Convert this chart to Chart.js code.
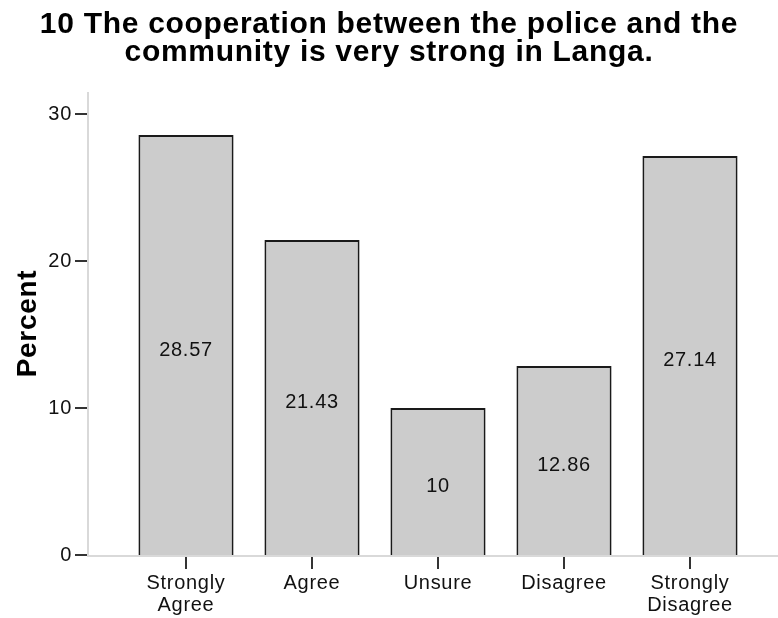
<!DOCTYPE html>
<html>
<head>
<meta charset="utf-8">
<script src="https://cdn.jsdelivr.net/npm/chart.js@4.4.0/dist/chart.umd.min.js"></script>
<style>
  html, body { margin: 0; padding: 0; background: #fff; }
</style>
</head>
<body>
<canvas id="percentChart" width="778" height="618"></canvas>
<script>
// answers to question 10
var titleLines = ["10 The cooperation between the police and the", "community is very strong in Langa."];
var categories = [["Strongly", "Agree"], "Agree", "Unsure", "Disagree", ["Strongly", "Disagree"]];
var percents = [28.57, 21.43, 10, 12.86, 27.14];
var yTicks = [0, 10, 20, 30];

var FONT = 'Arial, "Liberation Sans", sans-serif';

// SPSS output text is a little loosely spaced
var spacing = {
    id: 'spacing',
    beforeLayout: function (chart) { chart.ctx.letterSpacing = '0.7px'; },
    beforeDraw: function (chart) { chart.ctx.letterSpacing = '0.7px'; }
};

// y axis line sits a bit left of the first category, SPSS style
var axesPlugin = {
    id: 'spssAxes',
    beforeDatasetsDraw: function (chart) {
        var ctx = chart.ctx, area = chart.chartArea;
        var xs = chart.scales.x, ys = chart.scales.y;
        var axisX = area.left - 35;
        var baseY = ys.getPixelForValue(0);
        ctx.save();
        ctx.strokeStyle = '#d9d9d9';
        ctx.lineWidth = 2;
        ctx.beginPath();
        ctx.moveTo(axisX, area.top);
        ctx.lineTo(axisX, baseY + 1);
        ctx.lineTo(chart.width, baseY + 1);
        ctx.stroke();

        ctx.strokeStyle = '#333';
        ctx.beginPath();
        yTicks.forEach(function (v) {
            var py = Math.round(ys.getPixelForValue(v));
            ctx.moveTo(axisX - 13, py);
            ctx.lineTo(axisX - 1, py);
        });
        xs.ticks.forEach(function (t, i) {
            var px = Math.round(xs.getPixelForTick(i));
            ctx.moveTo(px, baseY + 2);
            ctx.lineTo(px, baseY + 14);
        });
        ctx.stroke();
        ctx.restore();
    }
};

// value printed in the middle of each bar
var valueLabels = {
    id: 'valueLabels',
    afterDatasetsDraw: function (chart) {
        var ctx = chart.ctx;
        var meta = chart.getDatasetMeta(0);
        ctx.save();
        ctx.font = '20px ' + FONT;
        ctx.fillStyle = '#111';
        ctx.textAlign = 'center';
        ctx.textBaseline = 'middle';
        meta.data.forEach(function (bar, i) {
            var mid = (bar.y + bar.base) / 2;
            ctx.fillText(String(percents[i]), bar.x, mid + 5);
        });
        ctx.restore();
    }
};

new Chart(document.getElementById('percentChart'), {
    type: 'bar',
    data: {
        labels: categories,
        datasets: [{
            data: percents,
            backgroundColor: '#cccccc',
            borderColor: '#1a1a1a',
            borderWidth: 2,
            borderSkipped: 'bottom',
            barPercentage: 0.755,
            categoryPercentage: 1.0
        }]
    },
    options: {
        responsive: false,
        animation: false,
        layout: { padding: 0 },
        plugins: {
            legend: { display: false },
            tooltip: { enabled: false },
            title: {
                display: true,
                text: titleLines,
                color: '#000',
                font: { family: FONT, size: 30, weight: 'bold', lineHeight: 0.95 },
                padding: { top: 10, bottom: 25 }
            }
        },
        scales: {
            x: {
                grid: { display: false, drawTicks: false },
                border: { display: false },
                ticks: {
                    color: '#111',
                    font: { family: FONT, size: 20, lineHeight: 1.1 },
                    padding: 17,
                    maxRotation: 0
                },
                afterFit: function (s) { s.height = 62; }
            },
            y: {
                min: 0,
                max: 31.5,
                grid: { display: false, drawTicks: false },
                border: { display: false },
                ticks: {
                    color: '#111',
                    font: { family: FONT, size: 20 },
                    padding: 51
                },
                afterBuildTicks: function (s) {
                    s.ticks = yTicks.map(function (v) { return { value: v }; });
                },
                title: {
                    display: true,
                    text: 'Percent',
                    color: '#000',
                    font: { family: FONT, size: 28, weight: 'bold' },
                    padding: { top: 11 }
                },
                afterFit: function (s) { s.width = 123; }
            },
            // empty strip on the right so the title stays centred on the page
            yRight: {
                position: 'right',
                min: 0,
                max: 31.5,
                grid: { display: false, drawTicks: false },
                border: { display: false },
                ticks: { display: false },
                afterFit: function (s) { s.width = 25; }
            }
        }
    },
    plugins: [spacing, axesPlugin, valueLabels]
});
</script>
</body>
</html>
